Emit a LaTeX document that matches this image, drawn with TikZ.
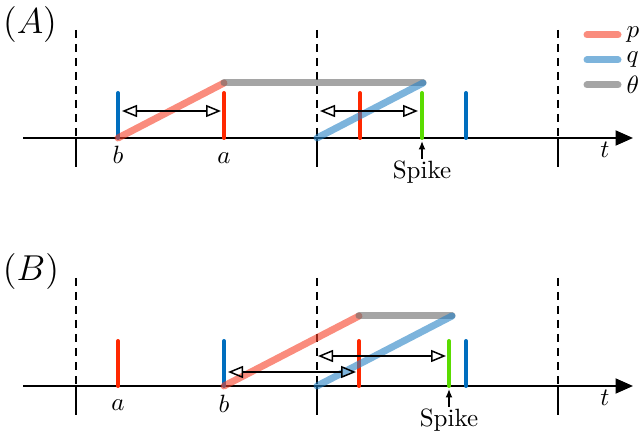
\documentclass[tikz,border=0pt]{standalone}
\usetikzlibrary{arrows.meta}
\definecolor{pramp}{RGB}{246,63,38}
\definecolor{qramp}{RGB}{38,130,197}
\definecolor{thramp}{RGB}{105,105,105}
\definecolor{pbar}{RGB}{255,40,0}
\definecolor{qbar}{RGB}{0,110,190}
\definecolor{spikebar}{RGB}{90,220,0}
\begin{document}
\begin{tikzpicture}[x=0.4pt,y=-0.4pt,
    axis/.style={line width=0.8pt,-{Triangle[length=7pt,width=6pt]}},
    grid/.style={line width=0.8pt,dash pattern=on 3.2pt off 2.4pt},
    bar/.style={line width=1.6pt,line cap=round},
    ramp/.style={line width=2.8pt,line cap=round,opacity=0.6},
    gap/.style={line width=0.6pt,{Triangle[open,length=6pt,width=4.8pt]}-{Triangle[open,length=6pt,width=4.8pt]}},
    spike/.style={line width=0.6pt,-{Latex[length=3.4pt,width=2.8pt]}},
    leg/.style={black,opacity=1,anchor=west,inner sep=0pt,xshift=2pt}]
  \useasboundingbox (0,0) rectangle (640,432);
  % panel A
  \begin{scope}
    \node (labA) at (30,25) {\Large $(A)$};
    \draw[axis] (23,138) coordinate (oA) -- (633,138) coordinate (endA);
    \foreach \x in {76,317,558} {
      \draw[grid] (\x,30) -- (\x,138);
      \draw[line width=0.8pt] (\x,138) -- (\x,167);
    }
    \draw[bar,qbar] (118,93) -- (118,138);
    \draw[bar,pbar] (224,93) -- (224,138);
    \draw[bar,pbar] (360,93) -- (360,138);
    \draw[bar,spikebar] (422,93) -- (422,138);
    \draw[bar,qbar] (466,93) -- (466,138);
    \draw[ramp,pramp] (118,138) -- (224,83);
    \draw[ramp,thramp] (224,83) -- (423,83);
    \draw[ramp,qramp] (317,138) -- (423,83);
    \coordinate (gA1) at (122,111);
    \coordinate (gA2) at (221,111);
    \coordinate (gA3) at (320,111);
    \coordinate (gA4) at (418,111);
    \draw[gap] (gA1) -- (gA2);
    \draw[gap] (gA3) -- (gA4);
    \node[anchor=base] (bA) at (118,164) {$b$};
    \node[anchor=base] (aA) at (224,164) {$a$};
    \node[anchor=base] (tA) at (605,158) {$t$};
    \node[inner sep=0.5pt] (spikeA) at (422,172) {Spike};
    \coordinate (hitA) at (422,141);
    \draw[spike] (spikeA) -- (hitA);
  \end{scope}
  % legend
  \draw[ramp,pramp] (587,35) -- (618,35) node[leg] (legp) {$p$};
  \draw[ramp,qramp] (587,60) -- (618,60) node[leg] (legq) {$q$};
  \draw[ramp,thramp] (587,85) -- (618,85) node[leg] (legth) {$\theta$};
  % panel B
  \begin{scope}[shift={(0,248)}]
    \node (labB) at (31,24) {\Large $(B)$};
    \draw[axis] (23,138) coordinate (oB) -- (633,138) coordinate (endB);
    \foreach \x in {76,317,558} {
      \draw[grid] (\x,30) -- (\x,138);
      \draw[line width=0.8pt] (\x,138) -- (\x,167);
    }
    \draw[bar,pbar] (118,93) -- (118,138);
    \draw[bar,qbar] (224,93) -- (224,138);
    \draw[bar,pbar] (359,93) -- (359,138);
    \draw[bar,spikebar] (449,93) -- (449,138);
    \draw[bar,qbar] (466,93) -- (466,138);
    \draw[ramp,pramp] (224,138) -- (359,68);
    \draw[ramp,thramp] (359,68) -- (452,68);
    \draw[ramp,qramp] (317,138) -- (452,68);
    \coordinate (gB1) at (228,124);
    \coordinate (gB2) at (356,124);
    \coordinate (gB3) at (318,108);
    \coordinate (gB4) at (446,108);
    \draw[gap] (gB1) -- (gB2);
    \draw[gap] (gB3) -- (gB4);
    \node[anchor=base] (aB) at (118,162) {$a$};
    \node[anchor=base] (bB) at (224,164) {$b$};
    \node[anchor=base] (tB) at (605,158) {$t$};
    \node[inner sep=0.5pt] (spikeB) at (449,172) {Spike};
    \coordinate (hitB) at (449,141);
    \draw[spike] (spikeB) -- (hitB);
  \end{scope}
\end{tikzpicture}
\end{document}
